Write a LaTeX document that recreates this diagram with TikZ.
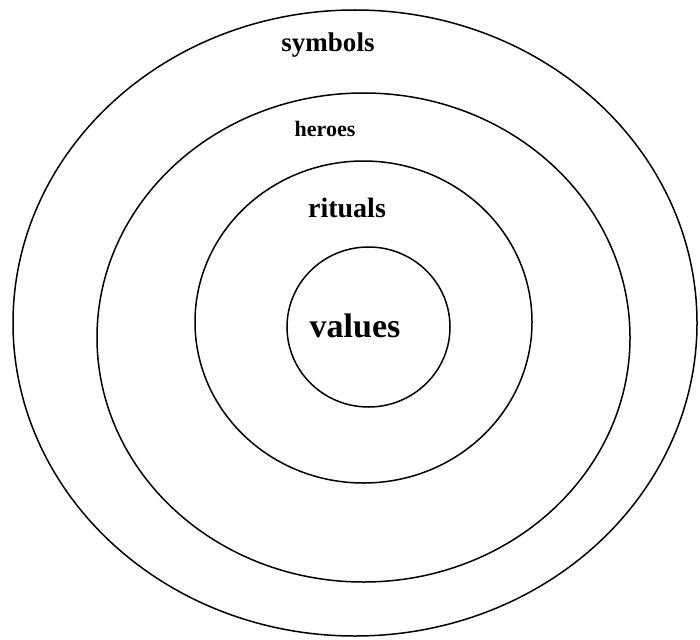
\documentclass[tikz,border=0pt]{standalone}
\usepackage{fontspec}
\setmainfont{Liberation Serif}
\begin{document}
\begin{tikzpicture}[x=1pt,y=-1pt,
  ring/.style={draw=black,line width=1.5pt},
  lbl/.style={anchor=base,inner sep=0pt,font=\bfseries}]
\useasboundingbox (0,0) rectangle (700,639);
\draw[ring] (355,323) ellipse [x radius=342pt, y radius=313pt];
\draw[ring] (363.5,337.5) ellipse [x radius=266.5pt, y radius=244.5pt];
\draw[ring] (363.5,322) ellipse [x radius=168.5pt, y radius=161pt];
\draw[ring] (368.5,327) ellipse [x radius=81.5pt, y radius=80pt];
\node[lbl,font=\fontsize{27}{30}\selectfont\bfseries] (symbols) at (328,52) {symbols};
\node[lbl,font=\fontsize{22}{25}\selectfont\bfseries] (heroes) at (325,137) {heroes};
\node[lbl,font=\fontsize{28}{31}\selectfont\bfseries] (rituals) at (347,217) {rituals};
\node[lbl,font=\fontsize{34}{38}\selectfont\bfseries] (values) at (355,337) {values};
\end{tikzpicture}
\end{document}
